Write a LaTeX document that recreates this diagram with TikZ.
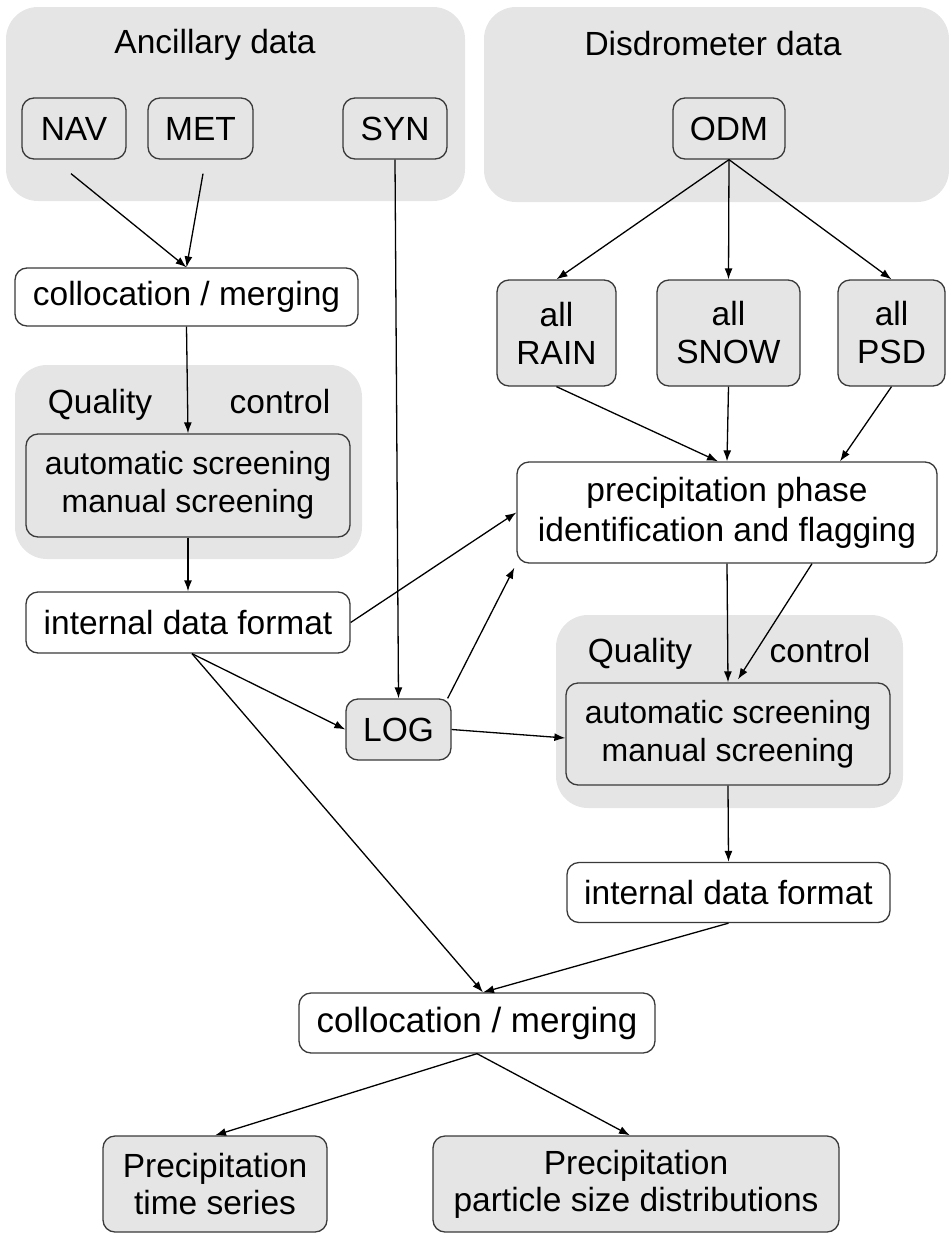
\documentclass[tikz,border=0pt]{standalone}
\usepackage{fontspec}
\setmainfont{Liberation Sans}
\usetikzlibrary{arrows.meta}
\definecolor{panel}{HTML}{E5E5E5}
\definecolor{edge}{HTML}{3A3A3A}
\tikzset{
  grp/.style={fill=panel, draw=none, rounded corners=32pt, inner sep=0pt},
  gbox/.style={fill=panel, draw=edge, line width=1.3pt, rounded corners=12pt,
    inner sep=0pt, align=center},
  wbox/.style={fill=white, draw=edge, line width=1.3pt, rounded corners=12pt,
    inner sep=0pt, align=center},
  lbl/.style={inner sep=0pt, anchor=base},
  link/.style={line width=1.3pt, -{Latex[length=11pt,width=8pt]}}
}
\begin{document}
\begin{tikzpicture}[x=1pt, y=-1pt, font=\fontsize{33.5}{38}\selectfont]
\useasboundingbox (0,0) rectangle (949,1234);

% shaded groups
\node[grp, minimum width=459, minimum height=194] (anc) at (235.5,104) {};
\node[grp, minimum width=465, minimum height=195] (dis) at (716.5,104.5) {};
\node[grp, minimum width=347, minimum height=194] (qcA) at (188.5,462) {};
\node[grp, minimum width=347, minimum height=193] (qcB) at (729.5,711.5) {};

% group titles
\node[lbl] (ancT) at (215,53) {Ancillary data};
\node[lbl] (disT) at (713,55) {Disdrometer data};
\node[lbl] (qA1) at (100,413) {Quality};
\node[lbl] (qA2) at (280,413) {control};
\node[lbl] (qB1) at (640,662) {Quality};
\node[lbl] (qB2) at (820,662) {control};

% data sources
\node[gbox, minimum width=104, minimum height=61] (nav) at (74,128.5) {NAV};
\node[gbox, minimum width=105, minimum height=61] (met) at (200.5,128.5) {MET};
\node[gbox, minimum width=104, minimum height=61] (syn) at (395,128.5) {SYN};
\node[gbox, minimum width=112, minimum height=61] (odm) at (729,128.5) {ODM};

\node[gbox, minimum width=119, minimum height=106] (rain) at (556.5,333) {all\\RAIN};
\node[gbox, minimum width=143, minimum height=106] (snow) at (728.5,333) {all\\SNOW};
\node[gbox, minimum width=107, minimum height=106] (psd) at (891.5,333) {all\\PSD};

% processing chain, left
\node[wbox, minimum width=343, minimum height=58] (colA) at (186.5,297) {collocation / merging};
\node[gbox, minimum width=324, minimum height=103, font=\fontsize{32}{38}\selectfont] (scrA) at (188,485.5) {automatic screening\\manual screening};
\node[wbox, minimum width=324, minimum height=61] (idfA) at (188,622.5) {internal data format};

% processing chain, right
\node[wbox, minimum width=420, minimum height=101, font=\fontsize{33.5}{40}\selectfont] (phase) at (727,512.5) {precipitation phase\\identification and flagging};
\node[gbox, minimum width=324, minimum height=102, font=\fontsize{32}{38}\selectfont] (scrB) at (728,734) {automatic screening\\manual screening};
\node[wbox, minimum width=323, minimum height=60] (idfB) at (728.5,892.5) {internal data format};

\node[gbox, minimum width=105, minimum height=61] (log) at (398.5,729.5) {LOG};

% merged products
\node[wbox, minimum width=356, minimum height=60, font=\fontsize{35}{38}\selectfont] (colB) at (477,1023) {collocation / merging};
\node[gbox, minimum width=224, minimum height=96, font=\fontsize{33.5}{37}\selectfont] (ts) at (215,1184) {Precipitation\\time series};
\node[gbox, minimum width=406, minimum height=96, font=\fontsize{33.5}{37}\selectfont] (psdo) at (636,1184) {Precipitation\\particle size distributions};

% connectors
\draw[link] ([xshift=-3pt,yshift=-14pt]nav.south) -- (colA.north);
\draw[link] ([xshift=2.5pt,yshift=-14pt]met.south) -- (colA.north);
\draw[link] (syn.south) -- (log.north);
\draw[link] (colA.south) -- (scrA.north);
\draw[link] (scrA.south) -- (idfA.north);
\draw[link] (idfA.east) -- (phase.west);
\draw[link] ([xshift=4pt]idfA.south) -- (log.west);
\draw[link] ([xshift=4pt]idfA.south) -- ([xshift=6pt]colB.north);
\draw[link] ([xshift=-4pt]log.north east) -- ([xshift=-2pt,yshift=-4pt]phase.south west);
\draw[link] (log.east) -- ([yshift=-4pt]scrB.west);

\draw[link] (odm.south) -- (rain.north);
\draw[link] (odm.south) -- (snow.north);
\draw[link] (odm.south) -- (psd.north);
\draw[link] (rain.south) -- ([xshift=-9pt]phase.north);
\draw[link] (snow.south) -- (phase.north);
\draw[link] (psd.south) -- ([xshift=113pt]phase.north);
\draw[link] (phase.south) -- (scrB.north);
\draw[link] ([xshift=85pt]phase.south) -- ([xshift=10pt,yshift=3pt]scrB.north);
\draw[link] (scrB.south) -- (idfB.north);
\draw[link] (idfB.south) -- ([xshift=6pt]colB.north);

\draw[link] (colB.south) -- (ts.north);
\draw[link] (colB.south) -- ([xshift=-6pt]psdo.north);
\end{tikzpicture}
\end{document}
